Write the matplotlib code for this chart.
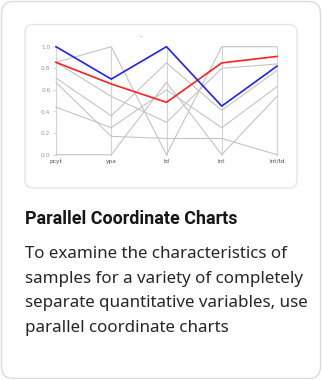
import matplotlib
matplotlib.use("Agg")
import matplotlib.pyplot as plt
from matplotlib.patches import FancyBboxPatch

# ---- data ----
axes_labels = ["pcyt", "ypa", "td", "int", "int/td"]
gray_series = [
    [0.855, 1.00, 0.00, 1.00, 1.00],
    [0.855, 0.54, 0.30, 0.80, 0.84],
    [0.71, 0.36, 0.85, 0.41, 0.78],
    [0.67, 0.17, 0.15, 0.15, 0.00],
    [0.44, 0.25, 0.60, 0.25, 0.63],
    [0.00, 0.00, 0.67, 0.00, 0.54],
]
red_series = [0.855, 0.655, 0.485, 0.85, 0.91]
blue_series = [1.00, 0.70, 1.00, 0.45, 0.82]
y_ticks = [0.0, 0.2, 0.4, 0.6, 0.8, 1.0]
title = "Parallel Coordinate Charts"
body_lines = [
    "To examine the characteristics of",
    "samples for a variety of completely",
    "separate quantitative variables, use",
    "parallel coordinate charts",
]

W, H = 322, 380
fig = plt.figure(figsize=(W / 100, H / 100), dpi=100)
fig.patch.set_facecolor("white")

def px_box(x0, y0, x1, y1):
    return [x0 / W, 1 - y1 / H, (x1 - x0) / W, (y1 - y0) / H]

# outer card
bg = fig.add_axes([0, 0, 1, 1])
bg.set_xlim(0, W)
bg.set_ylim(H, 0)
bg.axis("off")
bg.add_patch(FancyBboxPatch((1.5, 1.5), W - 3, H - 3,
                            boxstyle="round,pad=0,rounding_size=12",
                            fc="white", ec="#dcdcdc", lw=1.0))
bg.add_patch(FancyBboxPatch((25, 24.5), 272, 163.5,
                            boxstyle="round,pad=0,rounding_size=8",
                            fc="white", ec="#e6e6e6", lw=1.0))
# faint legend remnant
bg.plot([140, 142.5], [35.5, 35.5], color="#c8ccff", lw=0.6)

# chart axes
ax = fig.add_axes(px_box(56, 46.7, 277, 154.7))
ax.set_xlim(0, len(axes_labels) - 1)
ax.set_ylim(0, 1)
ax.set_facecolor("none")
for s in ax.spines.values():
    s.set_visible(False)

xs = list(range(len(axes_labels)))
for x in xs:
    ax.plot([x, x], [0, 1], color="#d4d4d4", lw=0.8, clip_on=False, zorder=1)
for ser in gray_series:
    ax.plot(xs, ser, color="#c4c4c4", lw=0.8, clip_on=False, zorder=2)
ax.plot(xs, red_series, color="#ff2020", lw=1.2, clip_on=False, zorder=4)
ax.plot(xs, blue_series, color="#2020ff", lw=1.2, clip_on=False, zorder=4)

ax.set_xticks(xs)
ax.set_xticklabels(axes_labels, fontsize=4.2, color="#555555")
ax.tick_params(axis="x", length=0, pad=3)
ax.set_yticks(y_ticks)
ax.set_yticklabels([f"{v:.1f}" for v in y_ticks], fontsize=4.2, color="#999999")
ax.tick_params(axis="y", length=2, width=0.5, color="#cccccc", pad=2)

# texts
fam = ["Noto Sans", "DejaVu Sans"]
fig.text(25 / W, 1 - 219 / H, title, fontsize=12.9, fontweight="bold",
         color="#161616", family=["Roboto", "DejaVu Sans"], va="center", ha="left")
for i, line in enumerate(body_lines):
    fig.text(25 / W, 1 - (254 + 24.7 * i) / H, line, fontsize=12.2,
             color="#262626", family=fam, va="center", ha="left")

fig.savefig("out.png", dpi=100, facecolor="white")
